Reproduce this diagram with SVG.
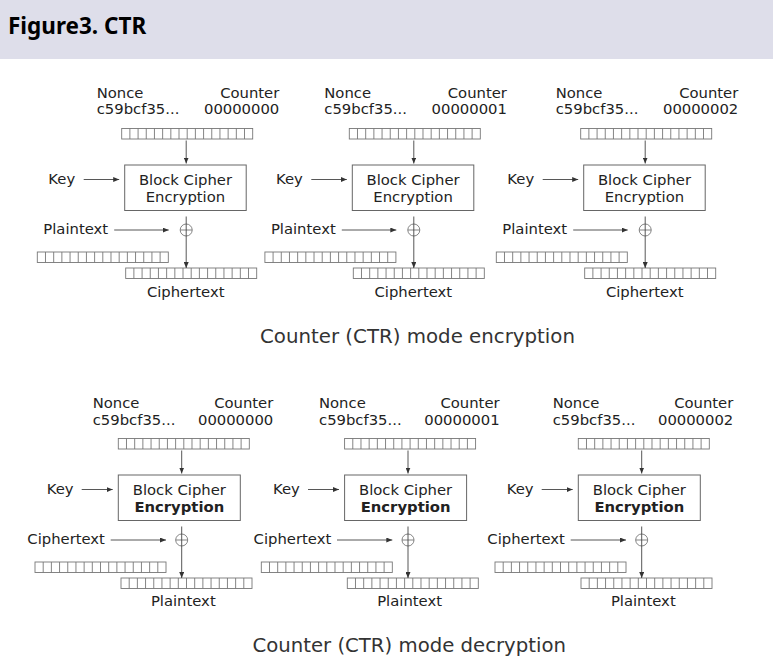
<svg xmlns="http://www.w3.org/2000/svg" xmlns:xlink="http://www.w3.org/1999/xlink" width="773" height="666" viewBox="0 0 773 666">
<style>
.t{font-family:"DejaVu Sans",sans-serif;font-size:14.8px;fill:#222}
.m{text-anchor:middle}
.e{text-anchor:end}
.b{font-weight:bold}
.cap{font-family:"DejaVu Sans",sans-serif;fill:#333;text-anchor:middle}
.box{fill:#fff;stroke:#666;stroke-width:1}
.cell{fill:#fff;stroke:#777;stroke-width:0.9}
.ln{stroke:#444;stroke-width:0.9;fill:none}
.arr{stroke:#444;stroke-width:0.9;fill:none;marker-end:url(#ah)}
.xor{fill:none;stroke:#777;stroke-width:0.9}
</style>
<defs>
<marker id="ah" markerUnits="userSpaceOnUse" markerWidth="7" markerHeight="5" refX="6" refY="2.5" orient="auto">
<path d="M0,0L6,2.5L0,5z" fill="#333"/>
</marker>
<g id="strip">
<rect class="cell" x="0" y="0" width="131" height="10.5"/>
<path class="cell" d="M8.19,0v10.5M16.38,0v10.5M24.56,0v10.5M32.75,0v10.5M40.94,0v10.5M49.13,0v10.5M57.31,0v10.5M65.5,0v10.5M73.69,0v10.5M81.88,0v10.5M90.06,0v10.5M98.25,0v10.5M106.44,0v10.5M114.63,0v10.5M122.81,0v10.5"/>
</g>
</defs>
<rect x="0" y="0" width="773" height="59" fill="#dedeea"/>
<text x="8" y="34" style="font-family:'Noto Sans',sans-serif;font-weight:bold;font-size:22.5px;fill:#000">Figure3. CTR</text>

<!-- Encryption blocks -->
<g id="enc1" transform="translate(96.7,0)">
<g id="enc1-nonce"><text class="t" x="0" y="97.7">Nonce</text><text class="t" x="0" y="114.3">c59bcf35...</text></g>
<g id="enc1-counter"><text class="t e" x="182.6" y="97.7">Counter</text><text class="t e" x="182.6" y="114.3">00000000</text></g>
<g id="enc1-input"><use xlink:href="#strip" x="25" y="128.5"/></g>
<g id="enc1-cipher"><rect class="box" x="28" y="165" width="121.5" height="45.5"/><text class="t m" x="88.75" y="185.3">Block Cipher</text><text class="t m" x="88.75" y="201.5">Encryption</text></g>
<g id="enc1-key"><text class="t" x="-48.4" y="183.5">Key</text></g>
<g id="enc1-plain"><text class="t" x="-53.4" y="234.3">Plaintext</text><use xlink:href="#strip" x="-59.4" y="252"/></g>
<g id="enc1-xor"><circle class="xor" cx="89.5" cy="230" r="6"/><path class="xor" d="M83.5,230h12"/></g>
<g id="enc1-out"><use xlink:href="#strip" x="29" y="268"/><text class="t m" x="89" y="297">Ciphertext</text></g>
<g id="enc1-connectors"><path class="arr" d="M89.5,140.5V163.5"/><path class="arr" d="M-13,179.5H22.5"/><path class="arr" d="M17.5,230H72"/><path class="arr" d="M89.5,216.5V268"/></g>
</g>

<g id="enc2" transform="translate(324.3,0)">
<g id="enc2-nonce"><text class="t" x="0" y="97.7">Nonce</text><text class="t" x="0" y="114.3">c59bcf35...</text></g>
<g id="enc2-counter"><text class="t e" x="182.6" y="97.7">Counter</text><text class="t e" x="182.6" y="114.3">00000001</text></g>
<g id="enc2-input"><use xlink:href="#strip" x="25" y="128.5"/></g>
<g id="enc2-cipher"><rect class="box" x="28" y="165" width="121.5" height="45.5"/><text class="t m" x="88.75" y="185.3">Block Cipher</text><text class="t m" x="88.75" y="201.5">Encryption</text></g>
<g id="enc2-key"><text class="t" x="-48.4" y="183.5">Key</text></g>
<g id="enc2-plain"><text class="t" x="-53.4" y="234.3">Plaintext</text><use xlink:href="#strip" x="-59.4" y="252"/></g>
<g id="enc2-xor"><circle class="xor" cx="89.5" cy="230" r="6"/><path class="xor" d="M83.5,230h12"/></g>
<g id="enc2-out"><use xlink:href="#strip" x="29" y="268"/><text class="t m" x="89" y="297">Ciphertext</text></g>
<g id="enc2-connectors"><path class="arr" d="M89.5,140.5V163.5"/><path class="arr" d="M-13,179.5H22.5"/><path class="arr" d="M17.5,230H72"/><path class="arr" d="M89.5,216.5V268"/></g>
</g>

<g id="enc3" transform="translate(555.7,0)">
<g id="enc3-nonce"><text class="t" x="0" y="97.7">Nonce</text><text class="t" x="0" y="114.3">c59bcf35...</text></g>
<g id="enc3-counter"><text class="t e" x="182.6" y="97.7">Counter</text><text class="t e" x="182.6" y="114.3">00000002</text></g>
<g id="enc3-input"><use xlink:href="#strip" x="25" y="128.5"/></g>
<g id="enc3-cipher"><rect class="box" x="28" y="165" width="121.5" height="45.5"/><text class="t m" x="88.75" y="185.3">Block Cipher</text><text class="t m" x="88.75" y="201.5">Encryption</text></g>
<g id="enc3-key"><text class="t" x="-48.4" y="183.5">Key</text></g>
<g id="enc3-plain"><text class="t" x="-53.4" y="234.3">Plaintext</text><use xlink:href="#strip" x="-59.4" y="252"/></g>
<g id="enc3-xor"><circle class="xor" cx="89.5" cy="230" r="6"/><path class="xor" d="M83.5,230h12"/></g>
<g id="enc3-out"><use xlink:href="#strip" x="29" y="268"/><text class="t m" x="89" y="297">Ciphertext</text></g>
<g id="enc3-connectors"><path class="arr" d="M89.5,140.5V163.5"/><path class="arr" d="M-13,179.5H22.5"/><path class="arr" d="M17.5,230H72"/><path class="arr" d="M89.5,216.5V268"/></g>
</g>

<text class="cap" x="417.5" y="343.3" style="font-size:19.8px">Counter (CTR) mode encryption</text>

<!-- Decryption blocks -->
<g id="dec1" transform="translate(92.7,310)">
<g id="dec1-nonce"><text class="t" x="0" y="98.3">Nonce</text><text class="t" x="0" y="114.8">c59bcf35...</text></g>
<g id="dec1-counter"><text class="t e" x="180.6" y="98.3">Counter</text><text class="t e" x="180.6" y="114.8">00000000</text></g>
<g id="dec1-input"><use xlink:href="#strip" x="25.6" y="128.5"/></g>
<g id="dec1-cipher"><rect class="box" x="25.6" y="165" width="122" height="45.5"/><text class="t m" x="86.6" y="185.3">Block Cipher</text><text class="t m b" x="86.6" y="201.5">Encryption</text></g>
<g id="dec1-key"><text class="t" x="-46" y="183.5">Key</text></g>
<g id="dec1-ct"><text class="t" x="-65.4" y="234.3">Ciphertext</text><use xlink:href="#strip" x="-57.7" y="252"/></g>
<g id="dec1-xor"><circle class="xor" cx="89" cy="230" r="6"/><path class="xor" d="M83,230h12"/></g>
<g id="dec1-out"><use xlink:href="#strip" x="28.3" y="268"/><text class="t m" x="90.6" y="296">Plaintext</text></g>
<g id="dec1-connectors"><path class="arr" d="M89,140.5V163.5"/><path class="arr" d="M-11,179.5H20"/><path class="arr" d="M18,230H73.3"/><path class="arr" d="M89,216.5V268"/></g>
</g>

<g id="dec2" transform="translate(319,310)">
<g id="dec2-nonce"><text class="t" x="0" y="98.3">Nonce</text><text class="t" x="0" y="114.8">c59bcf35...</text></g>
<g id="dec2-counter"><text class="t e" x="180.6" y="98.3">Counter</text><text class="t e" x="180.6" y="114.8">00000001</text></g>
<g id="dec2-input"><use xlink:href="#strip" x="25.6" y="128.5"/></g>
<g id="dec2-cipher"><rect class="box" x="25.6" y="165" width="122" height="45.5"/><text class="t m" x="86.6" y="185.3">Block Cipher</text><text class="t m b" x="86.6" y="201.5">Encryption</text></g>
<g id="dec2-key"><text class="t" x="-46" y="183.5">Key</text></g>
<g id="dec2-ct"><text class="t" x="-65.4" y="234.3">Ciphertext</text><use xlink:href="#strip" x="-57.7" y="252"/></g>
<g id="dec2-xor"><circle class="xor" cx="89" cy="230" r="6"/><path class="xor" d="M83,230h12"/></g>
<g id="dec2-out"><use xlink:href="#strip" x="28.3" y="268"/><text class="t m" x="90.6" y="296">Plaintext</text></g>
<g id="dec2-connectors"><path class="arr" d="M89,140.5V163.5"/><path class="arr" d="M-11,179.5H20"/><path class="arr" d="M18,230H73.3"/><path class="arr" d="M89,216.5V268"/></g>
</g>

<g id="dec3" transform="translate(552.7,310)">
<g id="dec3-nonce"><text class="t" x="0" y="98.3">Nonce</text><text class="t" x="0" y="114.8">c59bcf35...</text></g>
<g id="dec3-counter"><text class="t e" x="180.6" y="98.3">Counter</text><text class="t e" x="180.6" y="114.8">00000002</text></g>
<g id="dec3-input"><use xlink:href="#strip" x="25.6" y="128.5"/></g>
<g id="dec3-cipher"><rect class="box" x="25.6" y="165" width="122" height="45.5"/><text class="t m" x="86.6" y="185.3">Block Cipher</text><text class="t m b" x="86.6" y="201.5">Encryption</text></g>
<g id="dec3-key"><text class="t" x="-46" y="183.5">Key</text></g>
<g id="dec3-ct"><text class="t" x="-65.4" y="234.3">Ciphertext</text><use xlink:href="#strip" x="-57.7" y="252"/></g>
<g id="dec3-xor"><circle class="xor" cx="89" cy="230" r="6"/><path class="xor" d="M83,230h12"/></g>
<g id="dec3-out"><use xlink:href="#strip" x="28.3" y="268"/><text class="t m" x="90.6" y="296">Plaintext</text></g>
<g id="dec3-connectors"><path class="arr" d="M89,140.5V163.5"/><path class="arr" d="M-11,179.5H20"/><path class="arr" d="M18,230H73.3"/><path class="arr" d="M89,216.5V268"/></g>
</g>

<text class="cap" x="409.2" y="651.5" style="font-size:19.7px">Counter (CTR) mode decryption</text>
</svg>
